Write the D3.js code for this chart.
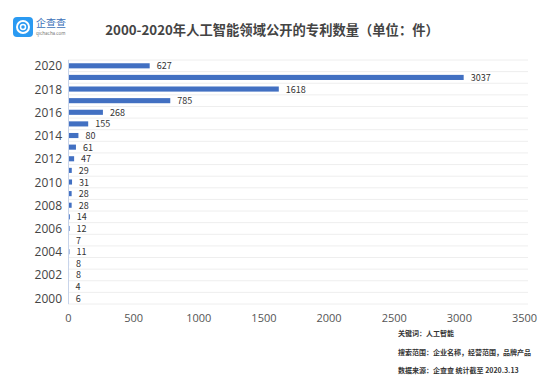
<!DOCTYPE html>
<html>
<head>
<meta charset="utf-8">
<script src="https://cdn.jsdelivr.net/npm/d3@7"></script>
<style>
  body { margin: 0; background: #fff; }
  svg { font-family: "Noto Sans CJK SC", "Noto Sans", sans-serif; }
</style>
</head>
<body>
<div id="chart"></div>
<script>
// Data
var years = [2000, 2001, 2002, 2003, 2004, 2005, 2006, 2007, 2008, 2009, 2010,
             2011, 2012, 2013, 2014, 2015, 2016, 2017, 2018, 2019, 2020];
var patents = [6, 4, 8, 8, 11, 7, 12, 14, 28, 28, 31,
               29, 47, 61, 80, 155, 268, 785, 1618, 3037, 627];
var xTicks = [0, 500, 1000, 1500, 2000, 2500, 3000, 3500];
var notes = ["关键词：人工智能", "搜索范围：企业名称，经营范围，品牌产品", "数据来源：企查查 统计截至 2020.3.13"];

var svgWidth = 549, svgHeight = 385;
var margin = { top: 60, right: 25, bottom: 81, left: 68 };
var width = svgWidth - margin.left - margin.right;
var height = svgHeight - margin.top - margin.bottom;

var svg = d3.select("#chart").append("svg")
    .attr("width", svgWidth)
    .attr("height", svgHeight);

// Logo
var logo = svg.append("g").attr("transform", "translate(13,17)");
logo.append("rect")
    .attr("width", 20).attr("height", 20).attr("rx", 4)
    .attr("fill", "#2a9af2");
logo.append("circle")
    .attr("cx", 10).attr("cy", 10).attr("r", 6)
    .attr("fill", "none").attr("stroke", "#fff").attr("stroke-width", 2);
logo.append("circle")
    .attr("cx", 10).attr("cy", 10).attr("r", 2.5)
    .attr("fill", "none").attr("stroke", "#fff").attr("stroke-width", 1.5);
logo.append("text")
    .text("企查查")
    .attr("x", 23).attr("y", 10)
    .attr("font-size", 10).attr("fill", "#3a6fb8");
logo.append("text")
    .text("qichacha.com")
    .attr("x", 23).attr("y", 18)
    .attr("font-size", 4.5).attr("fill", "#777");

// Title
svg.append("text")
    .text("2000-2020年人工智能领域公开的专利数量（单位：件）")
    .attr("x", 272).attr("y", 35)
    .attr("text-anchor", "middle")
    .attr("font-size", 13.3)
    .attr("font-weight", "bold")
    .attr("fill", "#444");

var g = svg.append("g")
    .attr("transform", "translate(" + margin.left + "," + margin.top + ")");

var x = d3.scaleLinear().domain([0, 3500]).range([0, 456]);
var y = d3.scaleBand()
    .domain(years.slice().reverse())
    .range([0, height])
    .paddingInner(0.56)
    .paddingOuter(0.28);

// Horizontal gridlines at band boundaries
var bounds = d3.range(years.length + 1).map(function (i) { return i * y.step(); });
g.selectAll(".grid")
    .data(bounds)
    .enter().append("line")
    .attr("x1", 0).attr("x2", 460)
    .attr("y1", function (d) { return d; })
    .attr("y2", function (d) { return d; })
    .attr("stroke", "#eeeeee")
    .attr("stroke-width", 1);

// Bars
g.selectAll(".bar")
    .data(years)
    .enter().append("rect")
    .attr("x", 0)
    .attr("y", function (d) { return y(d); })
    .attr("width", function (d, i) { return x(patents[i]); })
    .attr("height", y.bandwidth())
    .attr("fill", "#4270c2");

// Value labels
g.selectAll(".val")
    .data(years)
    .enter().append("text")
    .text(function (d, i) { return patents[i]; })
    .attr("x", function (d, i) { return x(patents[i]) + 7; })
    .attr("y", function (d) { return y(d) + y.bandwidth() / 2; })
    .attr("dominant-baseline", "central")
    .attr("font-size", 9)
    .attr("fill", "#333");

// Vertical axis line
g.append("line")
    .attr("x1", 0.5).attr("x2", 0.5)
    .attr("y1", 0).attr("y2", height)
    .attr("stroke", "#c8d4ea");

// Y labels (even years)
g.selectAll(".ylab")
    .data(years.filter(function (d) { return d % 2 === 0; }))
    .enter().append("text")
    .text(function (d) { return d; })
    .attr("x", -6)
    .attr("y", function (d) { return y(d) + y.bandwidth() / 2; })
    .attr("text-anchor", "end")
    .attr("dominant-baseline", "central")
    .attr("font-size", 12)
    .attr("font-family", "\"Open Sans\", sans-serif")
    .attr("fill", "#444");

// X axis
var xAxis = d3.axisBottom(x).tickValues(xTicks).tickFormat(d3.format("d"))
    .tickSize(0).tickPadding(10);
var ax = g.append("g")
    .attr("transform", "translate(0," + height + ")")
    .call(xAxis);
ax.select(".domain").remove();
ax.selectAll("text")
    .attr("font-size", 11)
    .attr("fill", "#555")
    .attr("font-family", "\"Open Sans\", sans-serif");

// Footnotes
svg.selectAll(".note")
    .data(notes)
    .enter().append("text")
    .text(function (d) { return d; })
    .attr("x", 398)
    .attr("y", function (d, i) { return 336 + i * 18.5; })
    .attr("font-size", 7)
    .attr("font-weight", "bold")
    .attr("fill", "#333");
</script>
</body>
</html>
